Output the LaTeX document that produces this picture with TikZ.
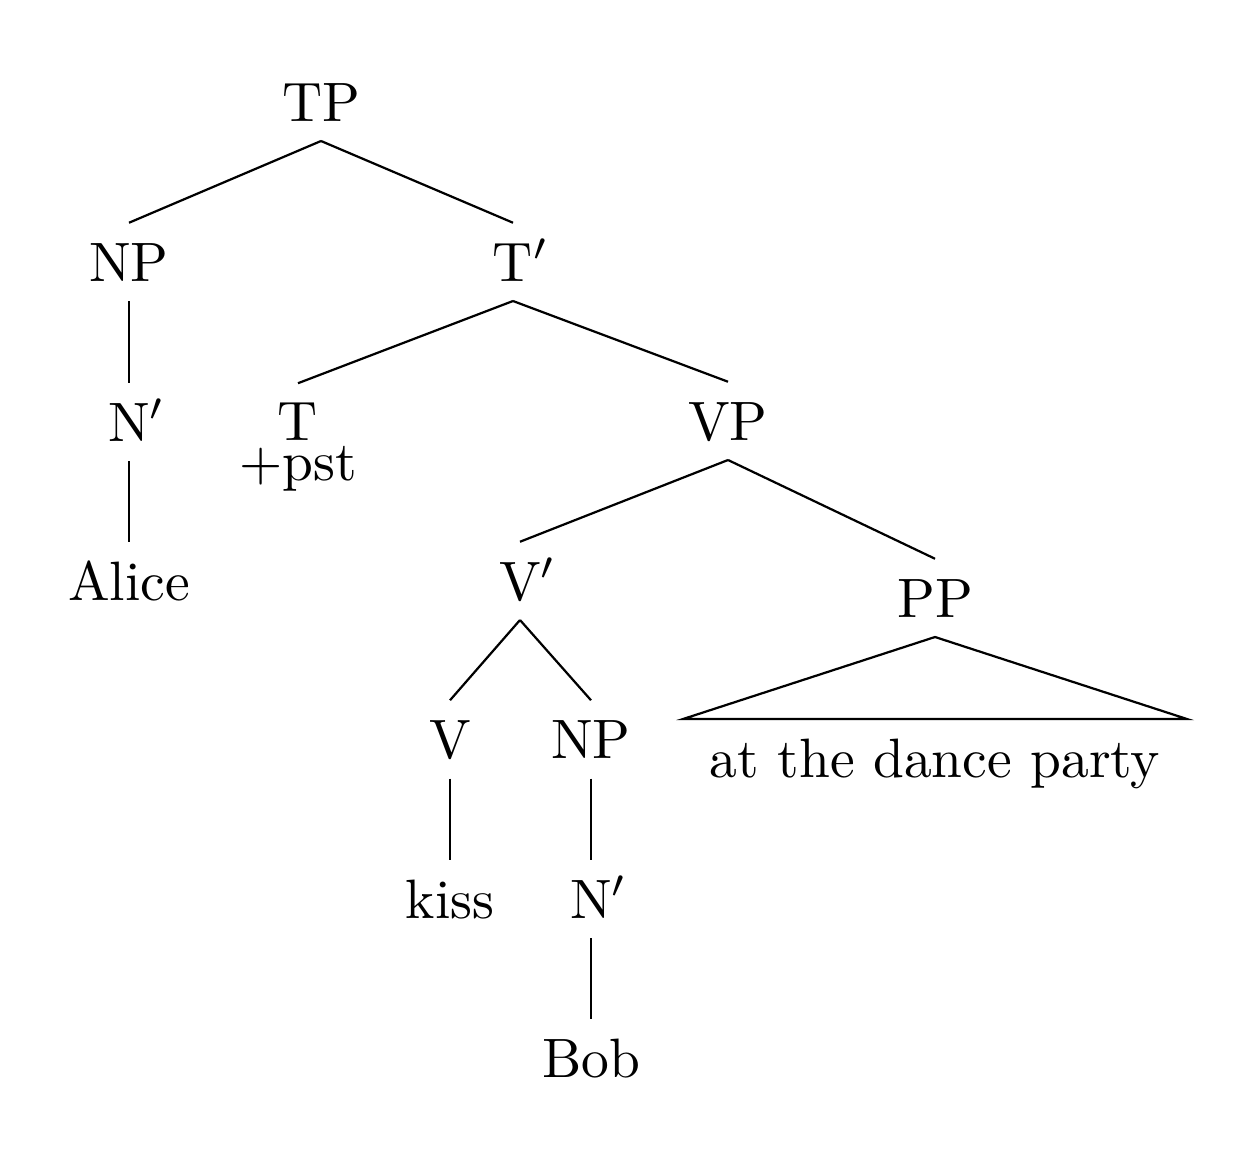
\documentclass[tikz,border=0pt]{standalone}
\begin{document}
\begin{tikzpicture}[x=0.18018pt,y=-0.18018pt,
  lab/.style={anchor=base,inner xsep=0pt,inner ysep=3.4pt,text height=6.9pt,text depth=0pt},
  stacked/.style={anchor=north,align=center,inner xsep=0pt,inner ysep=3.4pt,font=\fontsize{10}{7.2}\selectfont},
  plain/.style={anchor=base,inner sep=0pt},
  branch/.style={line width=0.4pt}]
\useasboundingbox (0,0) rectangle (1242,1153);
% nodes (positions are baselines, except the stacked T node)
\node[lab] (TP)  at (321,121) {TP};
\node[lab] (NPa) at (129,281) {NP};
\node[lab] (Tb)  at (513,281) {T\rlap{$'$}};
\node[lab] (Na)  at (129,441) {N\rlap{$'$}};
\node[stacked] (T) at (298,383.2) {T\\+pst};
\node[lab] (VP)  at (728,440) {VP};
\node[lab] (Alice) at (129,600) {Alice};
\node[lab] (Vb)  at (520,600) {V\rlap{$'$}};
\node[lab] (PP)  at (935,617) {PP};
\node[lab] (V)   at (450,758.5) {V};
\node[lab] (NPb) at (591,758.5) {NP};
\node[lab] (kiss) at (450,918) {kiss};
\node[lab] (Nb)  at (591,918) {N\rlap{$'$}};
\node[lab] (Bob) at (591,1077) {Bob};
\node[plain] (phrase) at (935,777) {at the dance party};
\coordinate (roofL) at (683,719);
\coordinate (roofR) at (1187,719);
% branches
\draw[branch] (TP.south) -- (NPa.north);
\draw[branch] (TP.south) -- (Tb.north);
\draw[branch] (NPa.south) -- (Na.north);
\draw[branch] (Na.south) -- (Alice.north);
\draw[branch] (Tb.south) -- (T.north);
\draw[branch] (Tb.south) -- (VP.north);
\draw[branch] (VP.south) -- (Vb.north);
\draw[branch] (VP.south) -- (PP.north);
\draw[branch] (Vb.south) -- (V.north);
\draw[branch] (Vb.south) -- (NPb.north);
\draw[branch] (V.south) -- (kiss.north);
\draw[branch] (NPb.south) -- (Nb.north);
\draw[branch] (Nb.south) -- (Bob.north);
\draw[branch,line join=miter] (PP.south) -- (roofL) -- (roofR) -- cycle;
\end{tikzpicture}
\end{document}
